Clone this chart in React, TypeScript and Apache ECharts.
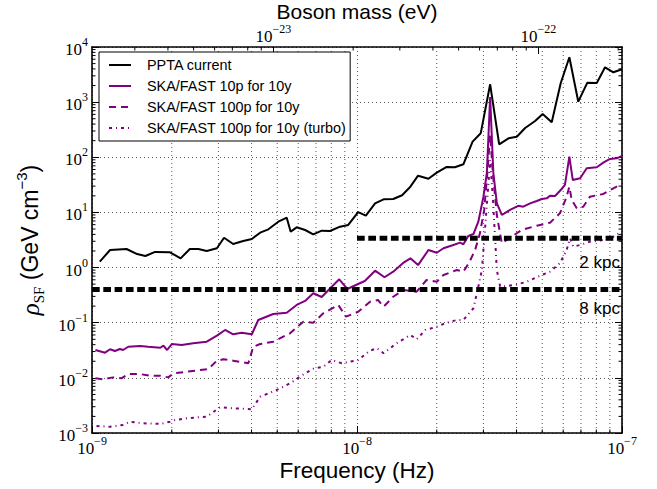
import React, { useEffect, useRef } from 'react';
import * as echarts from 'echarts';

const SANS = '"Liberation Sans", Arial, sans-serif';
const SERIF = '"Liberation Serif", "DejaVu Serif", serif';
const PURPLE = '#800080';

const seriesNames = [
  'PPTA current',
  'SKA/FAST 10p for 10y',
  'SKA/FAST 100p for 10y',
  'SKA/FAST 100p for 10y (turbo)',
];

// [frequency (Hz), rho_SF (GeV cm^-3)]
const pptaCurrent: [number, number][] = [
  [1.07e-9, 1.28], [1.17e-9, 2.08], [1.35e-9, 2.17], [1.48e-9, 1.76], [1.59e-9, 1.62],
  [1.73e-9, 1.92], [1.97e-9, 1.89], [2.16e-9, 1.47], [2.34e-9, 2.17], [2.52e-9, 2.17],
  [2.71e-9, 2.0], [2.96e-9, 2.24], [3.15e-9, 3.48], [3.41e-9, 2.68], [3.72e-9, 3.03],
  [4.01e-9, 3.3], [4.31e-9, 4.29], [4.63e-9, 4.94], [5.05e-9, 6.79], [5.43e-9, 8.03],
  [5.62e-9, 4.48], [5.92e-9, 5.37], [6.37e-9, 4.8], [6.84e-9, 4.01], [7.36e-9, 4.67],
  [7.91e-9, 4.61], [8.63e-9, 5.51], [9.27e-9, 5.92], [1.01e-8, 10.1], [1.08e-8, 8.73],
  [1.17e-8, 14.6], [1.26e-8, 17.3], [1.37e-8, 17.5], [1.48e-8, 20.5], [1.59e-8, 29.3],
  [1.7e-8, 46.4], [1.86e-8, 40.9], [2.0e-8, 52.6], [2.18e-8, 66.7], [2.34e-8, 65.9],
  [2.52e-8, 74.6], [2.73e-8, 192], [2.93e-8, 272], [3.18e-8, 2108], [3.44e-8, 172],
  [3.73e-8, 221], [4.01e-8, 236], [4.31e-8, 340], [4.7e-8, 455], [5.02e-8, 610],
  [5.43e-8, 431], [5.87e-8, 2198], [6.33e-8, 6510], [6.84e-8, 1019], [7.4e-8, 2254],
  [8.03e-8, 2225], [8.63e-8, 4290], [9.28e-8, 3480], [1.0e-7, 3950],
];

const ska10p: [number, number][] = [
  [1.03e-9, 0.032], [1.12e-9, 0.0286], [1.17e-9, 0.033], [1.22e-9, 0.0307], [1.275e-9, 0.0334],
  [1.31e-9, 0.032], [1.37e-9, 0.0367], [1.52e-9, 0.0378], [1.63e-9, 0.0367], [1.81e-9, 0.0352],
  [1.86e-9, 0.0383], [1.92e-9, 0.032], [2.0e-9, 0.0411], [2.18e-9, 0.0394], [2.41e-9, 0.0424],
  [2.71e-9, 0.0453], [2.96e-9, 0.0582], [3.18e-9, 0.0738], [3.41e-9, 0.0617], [3.67e-9, 0.0659],
  [4.01e-9, 0.0617], [4.24e-9, 0.112], [4.83e-9, 0.144], [5.43e-9, 0.152], [5.92e-9, 0.21],
  [6.37e-9, 0.248], [6.84e-9, 0.342], [7.36e-9, 0.293], [8.03e-9, 0.45], [8.57e-9, 0.613],
  [9.19e-9, 0.409], [1.01e-8, 0.504], [1.07e-8, 0.571], [1.17e-8, 0.878], [1.27e-8, 0.667],
  [1.37e-8, 0.842], [1.5e-8, 1.23], [1.59e-8, 1.47], [1.7e-8, 1.11], [1.86e-8, 2.08],
  [2.0e-8, 1.86], [2.12e-8, 2.24], [2.31e-8, 2.57], [2.45e-8, 2.83], [2.52e-8, 2.64],
  [2.63e-8, 3.74], [2.75e-8, 4.06], [2.87e-8, 6.79], [3.0e-8, 19.3], [3.09e-8, 51.9],
  [3.18e-8, 1240], [3.27e-8, 51.9], [3.37e-8, 14.8], [3.52e-8, 8.99], [3.78e-8, 11.1],
  [4.06e-8, 13.2], [4.24e-8, 12.7], [4.5e-8, 14.6], [4.77e-8, 16.1], [4.98e-8, 17.5],
  [5.2e-8, 18.0], [5.35e-8, 20.1], [5.59e-8, 19.9], [5.92e-8, 26.6], [6.09e-8, 31.5],
  [6.33e-8, 103], [6.52e-8, 38.7], [6.95e-8, 41.6], [7.36e-8, 63.1], [8.03e-8, 65.9],
  [8.5e-8, 79.8], [9.01e-8, 93.1], [9.55e-8, 95.9], [1.0e-7, 106],
];

const ska100p: [number, number][] = [
  [1.03e-9, 0.0098], [1.1e-9, 0.0094], [1.2e-9, 0.0102], [1.29e-9, 0.0098], [1.37e-9, 0.0117],
  [1.52e-9, 0.0117], [1.655e-9, 0.0109], [1.81e-9, 0.0109], [1.94e-9, 0.0102], [2.03e-9, 0.0121],
  [2.28e-9, 0.0129], [2.56e-9, 0.0139], [2.75e-9, 0.0145], [2.96e-9, 0.0205], [3.13e-9, 0.0217],
  [3.41e-9, 0.0205], [3.67e-9, 0.0192], [3.89e-9, 0.0184], [4.06e-9, 0.0367], [4.31e-9, 0.0411],
  [4.83e-9, 0.0453], [5.59e-9, 0.0643], [6.27e-9, 0.104], [6.84e-9, 0.1], [7.46e-9, 0.148],
  [8.5e-9, 0.21], [9.09e-9, 0.129], [1.01e-8, 0.158], [1.12e-8, 0.241], [1.2e-8, 0.258],
  [1.26e-8, 0.195], [1.37e-8, 0.296], [1.5e-8, 0.392], [1.68e-8, 0.365], [1.83e-8, 0.595],
  [2.0e-8, 0.554], [2.12e-8, 0.733], [2.38e-8, 0.904], [2.52e-8, 0.842], [2.65e-8, 1.23],
  [2.79e-8, 2.08], [2.91e-8, 4.18], [3.02e-8, 11.1], [3.1e-8, 47.8], [3.18e-8, 254],
  [3.26e-8, 47.8], [3.37e-8, 8.99], [3.52e-8, 2.76], [3.67e-8, 3.16], [4.18e-8, 4.8],
  [4.77e-8, 5.75], [5.35e-8, 6.52], [5.83e-8, 9.64], [6.15e-8, 18.0], [6.33e-8, 29.3],
  [6.46e-8, 16.8], [6.75e-8, 11.9], [7.14e-8, 12.7], [7.57e-8, 19.3], [8.5e-8, 21.6],
  [9.28e-8, 27.4], [1.0e-7, 32.8],
];

const ska100pTurbo: [number, number][] = [
  [1.04e-9, 0.00134], [1.17e-9, 0.0013], [1.31e-9, 0.0014], [1.39e-9, 0.0016], [1.56e-9, 0.0015],
  [1.81e-9, 0.00146], [1.97e-9, 0.0016], [2.06e-9, 0.00172], [2.28e-9, 0.00185], [2.71e-9, 0.00198],
  [3.04e-9, 0.00292], [3.41e-9, 0.00281], [4.01e-9, 0.00269], [4.31e-9, 0.00455], [4.98e-9, 0.00603],
  [5.59e-9, 0.00797], [6.37e-9, 0.0121], [6.88e-9, 0.0149], [7.46e-9, 0.0159], [8.03e-9, 0.0211],
  [8.76e-9, 0.0184], [9.41e-9, 0.0196], [1.01e-8, 0.0211], [1.12e-8, 0.0311], [1.19e-8, 0.0344],
  [1.26e-8, 0.0279], [1.41e-8, 0.0424], [1.59e-8, 0.0599], [1.68e-8, 0.05], [1.81e-8, 0.0738],
  [2.0e-8, 0.0847], [2.18e-8, 0.1], [2.38e-8, 0.112], [2.52e-8, 0.112], [2.75e-8, 0.183],
  [2.87e-8, 0.45], [2.96e-8, 0.904], [3.02e-8, 3.16], [3.1e-8, 16.8], [3.18e-8, 89.3],
  [3.26e-8, 16.8], [3.37e-8, 0.904], [3.47e-8, 0.45], [3.95e-8, 0.483], [4.37e-8, 0.554],
  [4.98e-8, 0.733], [5.35e-8, 0.842], [5.83e-8, 1.2], [6.18e-8, 2.08], [6.37e-8, 3.4],
  [6.55e-8, 2.39], [6.95e-8, 2.57], [7.57e-8, 2.95], [8.5e-8, 3.16], [9.28e-8, 3.63],
  [9.83e-8, 4.29],
];

// local dark-matter density thresholds
const kpc2: [number, number][] = [[1e-8, 3.4], [1e-7, 3.4]];
const kpc8: [number, number][] = [[1e-9, 0.4], [1e-7, 0.4]];
const thresholdLabels = ['2 kpc', '8 kpc'];

const freqRange = [1e-9, 1e-7];
const rhoRange = [1e-3, 1e4];
const PI_HBAR = 2.0678e-15; // eV s  (m = pi * hbar * f)
const massRange = [freqRange[0] * PI_HBAR, freqRange[1] * PI_HBAR];

function expLabel(v: number): string {
  const lg = Math.log10(v);
  const e = Math.round(lg);
  if (Math.abs(lg - e) > 1e-6) return '';
  return `{b|10}{s|${e < 0 ? '\u2212' : ''}${Math.abs(e)}}`;
}

const richTick = {
  b: { fontFamily: SERIF, fontSize: 17, lineHeight: 22, verticalAlign: 'bottom', color: '#000' },
  s: { fontFamily: SERIF, fontSize: 12, lineHeight: 8, verticalAlign: 'top', color: '#000' },
};

// minor ticks / minor grid (decorations)
const minorTicks: number[][] = [];
for (const dec of [1e-9, 1e-8]) for (let k = 2; k <= 9; k++) minorTicks.push([k * dec, rhoRange[0], 0]);
for (let d = -3; d < 4; d++) for (let k = 2; k <= 9; k++) minorTicks.push([freqRange[0], k * Math.pow(10, d), 1]);
for (const dec of [1e-24, 1e-23, 1e-22]) for (let k = 2; k <= 9; k++) {
  const m = k * dec;
  if (m > massRange[0] && m < massRange[1]) minorTicks.push([m / PI_HBAR, rhoRange[1], 2]);
}

export default function App() {
  const ref = useRef<HTMLDivElement>(null);
  useEffect(() => {
    if (!ref.current) return;
    const chart = echarts.init(ref.current, undefined, { renderer: 'svg' });
    const axisLine = { show: true, lineStyle: { color: '#000', width: 1.6 } };
    const axisTick = { show: true, inside: true, length: 7, lineStyle: { color: '#000', width: 1 } };
    const gridLine = { show: true, lineStyle: { color: '#555', width: 1, type: [1, 3] } };
    const option: any = {
      animation: false,
      backgroundColor: '#fff',
      grid: { left: 92, right: 35, top: 47, bottom: 56, containLabel: false, outerBoundsMode: 'none' },
      legend: {
        data: seriesNames,
        orient: 'vertical',
        left: 99,
        top: 52,
        padding: [6, 4, 6, 9],
        itemWidth: 22,
        itemHeight: 14,
        itemGap: 7,
        borderColor: '#000',
        borderWidth: 1,
        borderRadius: 0,
        backgroundColor: '#fff',
        selectedMode: false,
        itemStyle: { opacity: 0 },
        textStyle: { fontFamily: SANS, fontSize: 14.4, color: '#000', padding: [0, 0, 0, 11] },
      },
      xAxis: [
        {
          type: 'log', logBase: 10, min: freqRange[0], max: freqRange[1], position: 'bottom',
          axisLine, axisTick, splitLine: gridLine,
          axisLabel: { formatter: expLabel, rich: richTick, margin: 2 },
          name: 'Frequency (Hz)', nameLocation: 'middle', nameGap: 27, nameMoveOverlap: false,
          nameTextStyle: { fontFamily: SANS, fontSize: 22.5, lineHeight: 21, color: '#000' },
        },
        {
          type: 'log', logBase: 10, min: massRange[0], max: massRange[1], position: 'top',
          axisLine, axisTick, splitLine: { show: false },
          axisLabel: { formatter: expLabel, rich: richTick, margin: 2, showMinLabel: false, showMaxLabel: false },
          name: 'Boson mass (eV)', nameLocation: 'middle', nameGap: 25, nameMoveOverlap: false,
          nameTextStyle: { fontFamily: SANS, fontSize: 21, lineHeight: 21, color: '#000' },
        },
      ],
      yAxis: [
        {
          type: 'log', logBase: 10, min: rhoRange[0], max: rhoRange[1], position: 'left',
          axisLine, axisTick, splitLine: gridLine,
          axisLabel: { formatter: expLabel, rich: richTick, margin: 4 },
          name: '{r|\u03c1}{sub|SF}{t| (GeV cm}{sup|\u22123}{t|)}',
          nameLocation: 'middle', nameRotate: 90, nameGap: 46, nameMoveOverlap: false,
          nameTextStyle: {
            rich: {
              r: { fontFamily: SERIF, fontStyle: 'italic', fontSize: 25, lineHeight: 32, color: '#000' },
              sub: { fontFamily: SERIF, fontSize: 15, lineHeight: 22, verticalAlign: 'bottom', color: '#000' },
              t: { fontFamily: SANS, fontSize: 23, lineHeight: 32, color: '#000' },
              sup: { fontFamily: SANS, fontSize: 15, lineHeight: 20, verticalAlign: 'top', color: '#000' },
            },
          },
        },
        {
          type: 'log', logBase: 10, min: rhoRange[0], max: rhoRange[1], position: 'right',
          axisLine, axisTick, splitLine: { show: false }, axisLabel: { show: false },
        },
      ],
      series: [
        {
          type: 'custom', name: 'minor', silent: true, z: 1, xAxisIndex: 0, yAxisIndex: 0,
          data: minorTicks, encode: { x: 0, y: 1 },
          renderItem: (params: any, api: any) => {
            const cs = params.coordSys;
            const kind = api.value(2);
            const p = api.coord([api.value(0), api.value(1)]);
            const t = 3.5;
            const st = { stroke: '#000', lineWidth: 1 };
            if (kind === 0) {
              return {
                type: 'group', children: [
                  { type: 'line', shape: { x1: p[0], y1: cs.y, x2: p[0], y2: cs.y + cs.height }, style: { stroke: '#555', lineWidth: 1, lineDash: [1, 3] } },
                  { type: 'line', shape: { x1: p[0], y1: cs.y + cs.height, x2: p[0], y2: cs.y + cs.height - t }, style: st },
                ],
              };
            }
            if (kind === 1) {
              return {
                type: 'group', children: [
                  { type: 'line', shape: { x1: cs.x, y1: p[1], x2: cs.x + t, y2: p[1] }, style: st },
                  { type: 'line', shape: { x1: cs.x + cs.width, y1: p[1], x2: cs.x + cs.width - t, y2: p[1] }, style: st },
                ],
              };
            }
            return { type: 'line', shape: { x1: p[0], y1: cs.y, x2: p[0], y2: cs.y + t }, style: st };
          },
        },
        {
          name: seriesNames[0], type: 'line', data: pptaCurrent, symbol: 'none', z: 3,
          lineStyle: { color: '#000', width: 2 }, itemStyle: { color: '#000' },
        },
        {
          name: seriesNames[1], type: 'line', data: ska10p, symbol: 'none', z: 3,
          lineStyle: { color: PURPLE, width: 2 }, itemStyle: { color: PURPLE },
        },
        {
          name: seriesNames[2], type: 'line', data: ska100p, symbol: 'none', z: 3,
          lineStyle: { color: PURPLE, width: 2, type: [7, 5] }, itemStyle: { color: PURPLE },
        },
        {
          name: seriesNames[3], type: 'line', data: ska100pTurbo, symbol: 'none', z: 3,
          lineStyle: { color: PURPLE, width: 2, type: [3, 4, 1, 4] }, itemStyle: { color: PURPLE },
        },
        {
          name: 'kpc2', type: 'line', data: kpc2, symbol: 'none', z: 4, silent: true,
          lineStyle: { color: '#000', width: 5, type: [7.7, 3.6] },
          markPoint: {
            symbol: 'circle', symbolSize: 0, silent: true,
            data: [{ coord: kpc2[1] }],
            label: { show: true, formatter: thresholdLabels[0], position: 'inside', align: 'right', verticalAlign: 'middle', offset: [-2, 24], fontFamily: SANS, fontSize: 17, color: '#000' },
          },
        },
        {
          name: 'kpc8', type: 'line', data: kpc8, symbol: 'none', z: 4, silent: true,
          lineStyle: { color: '#000', width: 5, type: [7.7, 3.6] },
          markPoint: {
            symbol: 'circle', symbolSize: 0, silent: true,
            data: [{ coord: kpc8[1] }],
            label: { show: true, formatter: thresholdLabels[1], position: 'inside', align: 'right', verticalAlign: 'middle', offset: [-2, 19], fontFamily: SANS, fontSize: 17, color: '#000' },
          },
        },
      ],
    };
    chart.setOption(option);
    return () => chart.dispose();
  }, []);
  return <div ref={ref} style={{ position: 'fixed', left: 0, top: 0, width: 657, height: 489, background: '#fff' }} />;
}
